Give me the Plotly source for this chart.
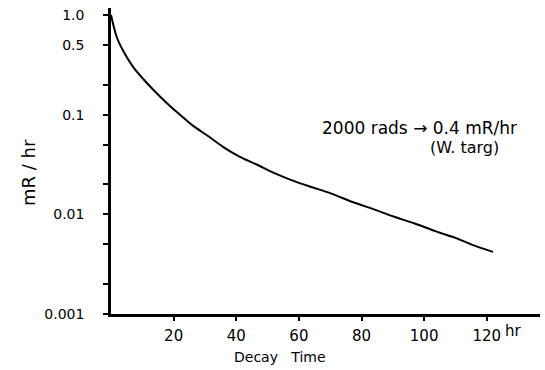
import numpy as np
import plotly.graph_objects as go

# Decay curve
decay_time_hr = [0, 1.8, 4, 7.1, 10.3, 13.5, 17.8, 21.5, 26, 31, 36, 41, 46.5,
                 52, 57.2, 63.5, 70, 77.4, 84, 90.2, 97, 104, 110, 115, 122]
dose_rate_mr_hr = [1.0, 0.605, 0.43, 0.30, 0.228, 0.178, 0.131, 0.103, 0.078,
                   0.061, 0.047, 0.038, 0.0316, 0.026, 0.0223, 0.019, 0.0163,
                   0.0132, 0.0112, 0.0095, 0.0081, 0.0067, 0.0058, 0.0050, 0.0042]

x_tick_vals = [20, 40, 60, 80, 100, 120]
x_tick_text = ["20", "40", "60", "80", "100", "120"]
y_tick_vals = [1.0, 0.5, 0.2, 0.1, 0.05, 0.02, 0.01, 0.005, 0.002, 0.001]
y_tick_text = ["1.0", "0.5", "", "0.1", "", "", "0.01", "", "", "0.001"]

FONT = "DejaVu Sans"

fig = go.Figure()
fig.add_trace(go.Scatter(
    x=decay_time_hr, y=dose_rate_mr_hr, mode="lines",
    line=dict(color="black", width=2, shape="spline", smoothing=0.8),
    showlegend=False, hoverinfo="skip"))

fig.update_layout(
    width=545, height=370,
    margin=dict(l=111, r=5, t=8, b=56),
    paper_bgcolor="white", plot_bgcolor="white",
    font=dict(family=FONT, color="black", size=13),
    xaxis=dict(range=[0, 137], tickvals=x_tick_vals, ticktext=x_tick_text,
               showgrid=False, zeroline=False, showline=True,
               linecolor="black", linewidth=2.5, ticks="outside",
               ticklen=4, tickwidth=2, tickcolor="black",
               ticklabelstandoff=2, tickfont=dict(size=15, family=FONT)),
    yaxis=dict(type="log", range=[-3, 0.07], tickvals=y_tick_vals,
               ticktext=y_tick_text, showgrid=False, zeroline=False,
               showline=True, linecolor="black", linewidth=2.5,
               ticks="outside", ticklen=5, tickwidth=2, tickcolor="black",
               ticklabelstandoff=16, tickfont=dict(size=14, family=FONT)),
)

fig.add_annotation(x=120, y=0, xref="x", yref="paper", text="hr",
                   showarrow=False, xanchor="left", yanchor="top",
                   xshift=16, yshift=-6, font=dict(size=15, family=FONT))
fig.add_annotation(x=54, y=0, xref="x", yref="paper", text="Decay&nbsp;&nbsp;&nbsp;Time",
                   showarrow=False, xanchor="center", yanchor="middle",
                   yshift=-43, font=dict(size=14, family=FONT))
fig.add_annotation(x=0, y=0.5, xref="paper", yref="paper", text="mR / hr",
                   showarrow=False, textangle=-90, xanchor="center",
                   yanchor="middle", xshift=-83, yshift=-12,
                   font=dict(size=18, family=FONT))
fig.add_annotation(x=98.4, y=np.log10(0.0736), xref="x", yref="y",
                   text="2000 rads \u2192 0.4 mR/hr", showarrow=False,
                   xanchor="center", yanchor="middle",
                   font=dict(size=17, family=FONT))
fig.add_annotation(x=113, y=np.log10(0.0464), xref="x", yref="y",
                   text="(W. targ)", showarrow=False,
                   xanchor="center", yanchor="middle",
                   font=dict(size=16, family=FONT))

fig.write_html("out.html")
